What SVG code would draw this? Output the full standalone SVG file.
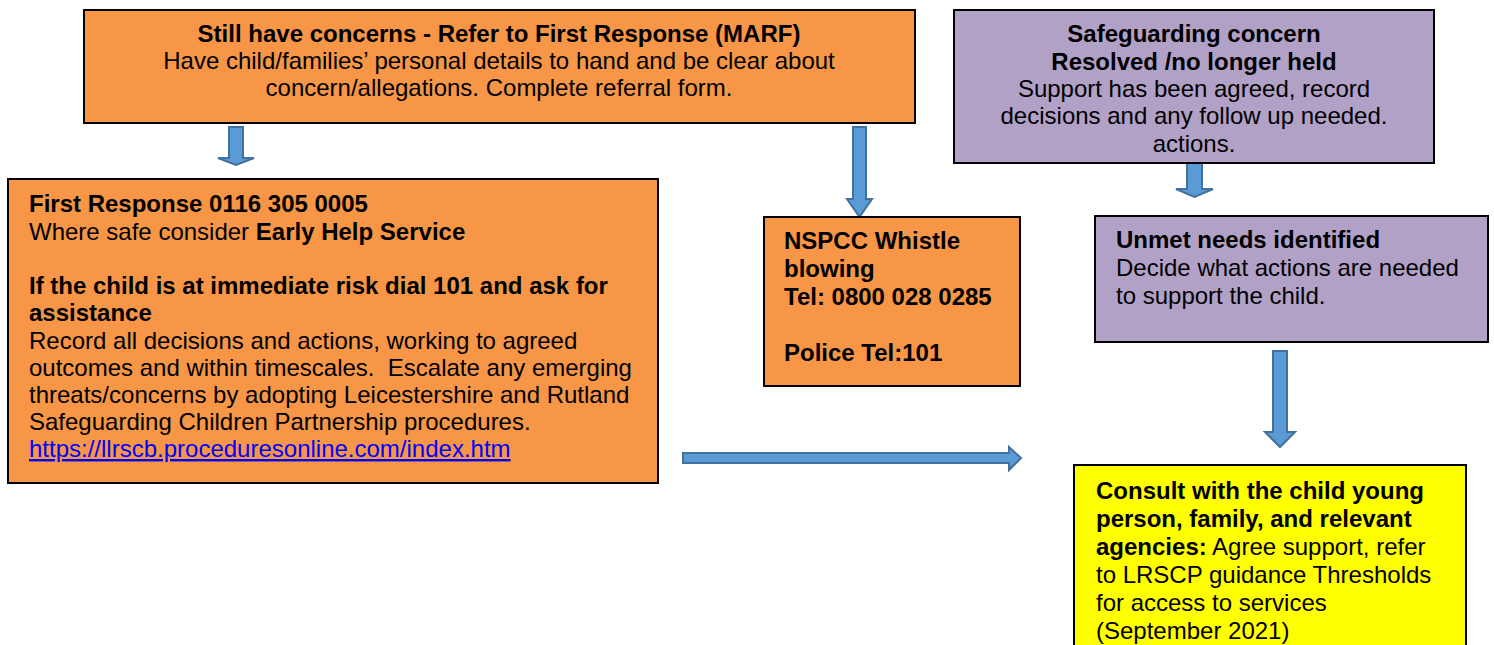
<svg xmlns="http://www.w3.org/2000/svg" width="1494" height="645" viewBox="0 0 1494 645">
<style>
text{font-family:"Liberation Sans",Arial,sans-serif;font-size:24px;fill:#000}
.b{font-weight:bold}
.c{text-anchor:middle}
.box{stroke:#000;stroke-width:2}
.or{fill:#F79646}
.pu{fill:#B2A1C7}
.ye{fill:#FFFF00}
.ar{fill:#5B9BD5;stroke:#41719C;stroke-width:2}
.lnk{fill:#0000FF;text-decoration:underline}
</style>
<rect width="1494" height="645" fill="#fff"/>
<g id="connectors">
<path class="ar" d="M229,127 H243 V158 H254 L236,165 L218,158 H229 Z"/>
<path class="ar" d="M853,127 H866 V199 H872 L859.5,217 L847,199 H853 Z"/>
<path class="ar" d="M683,453 H1009 V447 L1021,458 L1009,470 V463 H683 Z"/>
<path class="ar" d="M1187,163 H1202 V189 H1213 L1194.5,197 L1176,189 H1187 Z"/>
<path class="ar" d="M1273,351 H1287 V432 H1295 L1280,447 L1265,432 H1273 Z"/>
</g>
<g id="refer">
<rect class="box or" x="84" y="10" width="831" height="113"/>
<text class="c b" x="499" y="42">Still have concerns - Refer to First Response (MARF)</text>
<text class="c" x="499" y="69">Have child/families’ personal details to hand and be clear about</text>
<text class="c" x="499" y="96">concern/allegations. Complete referral form.</text>
</g>
<g id="first-response">
<rect class="box or" x="8" y="179" width="650" height="304"/>
<text class="b" x="29" y="212">First Response 0116 305 0005</text>
<text x="29" y="240">Where safe consider <tspan class="b">Early Help Service</tspan></text>
<text class="b" x="29" y="294">If the child is at immediate risk dial 101 and ask for</text>
<text class="b" x="29" y="321">assistance</text>
<text x="29" y="349">Record all decisions and actions, working to agreed</text>
<text x="29" y="376" xml:space="preserve">outcomes and within timescales.  Escalate any emerging</text>
<text x="29" y="403">threats/concerns by adopting Leicestershire and Rutland</text>
<text x="29" y="430">Safeguarding Children Partnership procedures.</text>
<text class="lnk" x="29" y="457">https://llrscb.proceduresonline.com/index.htm</text>
</g>
<g id="nspcc">
<rect class="box or" x="764" y="217" width="256" height="169"/>
<text class="b" x="784" y="249">NSPCC Whistle</text>
<text class="b" x="784" y="277">blowing</text>
<text class="b" x="784" y="305">Tel: 0800 028 0285</text>
<text class="b" x="784" y="361">Police Tel:101</text>
</g>
<g id="resolved">
<rect class="box pu" x="954" y="10" width="480" height="153"/>
<text class="c b" x="1194" y="42">Safeguarding concern</text>
<text class="c b" x="1194" y="70">Resolved /no longer held</text>
<text class="c" x="1194" y="97">Support has been agreed, record</text>
<text class="c" x="1194" y="124">decisions and any follow up needed.</text>
<text class="c" x="1194" y="152">actions.</text>
</g>
<g id="unmet">
<rect class="box pu" x="1095" y="216" width="393" height="126"/>
<text class="b" x="1116" y="248">Unmet needs identified</text>
<text x="1116" y="276">Decide what actions are needed</text>
<text x="1116" y="304">to support the child.</text>
</g>
<g id="consult">
<rect class="box ye" x="1074" y="465" width="392" height="190"/>
<text class="b" x="1096" y="499">Consult with the child young</text>
<text class="b" x="1096" y="527">person, family, and relevant</text>
<text x="1096" y="555"><tspan class="b">agencies:</tspan> Agree support, refer</text>
<text x="1096" y="583">to LRSCP guidance Thresholds</text>
<text x="1096" y="611">for access to services</text>
<text x="1096" y="639">(September 2021)</text>
</g>
</svg>
